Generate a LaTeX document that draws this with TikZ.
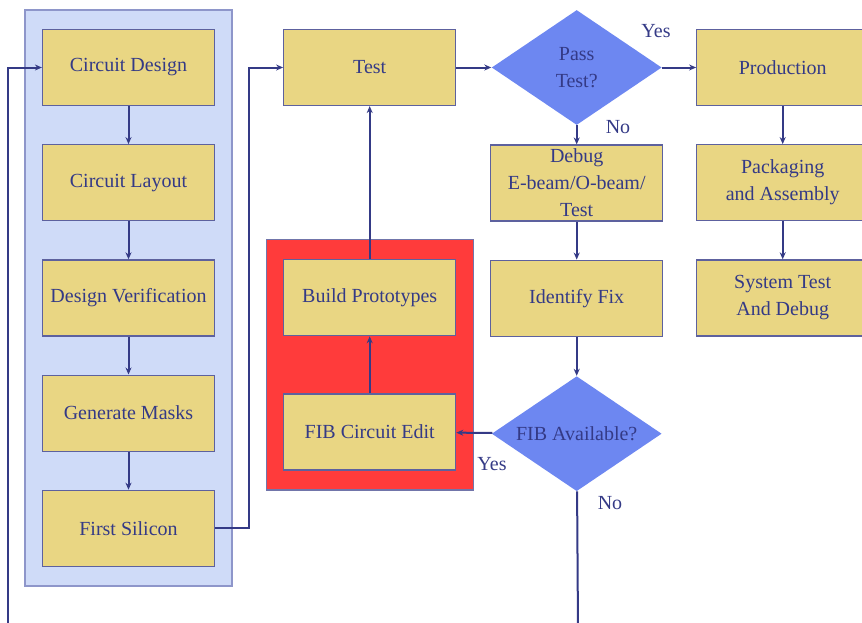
\documentclass[tikz,border=0pt]{standalone}
\usepackage{fontspec}
\setmainfont{Liberation Serif}
\usepackage{tikz}
\usetikzlibrary{positioning, arrows.meta, shapes.geometric, fit, backgrounds}

\definecolor{boxfill}{HTML}{E9D683}
\definecolor{inkblue}{HTML}{343A86}
\definecolor{panelblue}{HTML}{CFDBF8}
\definecolor{panelrim}{HTML}{8E96CA}
\definecolor{decisionfill}{HTML}{6D87F1}
\definecolor{fibred}{HTML}{FF3B3B}

\begin{document}
\begin{tikzpicture}[
    x=0.5pt, y=-0.5pt,
    every node/.style={text=inkblue, font=\fontsize{10}{13.5}\selectfont, align=center},
    stepbox/.style={rectangle, draw=inkblue!80, line width=0.6pt, fill=boxfill, minimum width=86pt, minimum height=38pt, inner sep=0pt},
    decision/.style={diamond, fill=decisionfill, minimum width=85pt, minimum height=57.5pt, inner sep=0pt},
    flow/.style={draw=inkblue, line width=1pt, -{Stealth[length=3.5pt, width=3pt]}},
    plainflow/.style={draw=inkblue, line width=1pt}
]
\clip (0,0) rectangle (862,622);

% design flow column
\node[stepbox](design) at (128.5,67.5){Circuit Design};
\node[stepbox](layout)[below = 19pt of design]{Circuit Layout};
\node[stepbox](verify)[below = 19pt of layout]{Design Verification};
\node[stepbox](masks)[below = 19pt of verify]{Generate Masks};
\node[stepbox](silicon)[below = 19pt of masks]{First Silicon};

% test and debug
\node[stepbox](test)[right = 34pt of design]{Test};
\node[decision](pass)[right = 17.5pt of test]{};
\node(passtext) at (pass){Pass\\Test?};
\node[stepbox](debug)[below = 9.5pt of pass]{Debug\\E-beam/O-beam/\\Test};
\node[stepbox](fix)[below = 19pt of debug]{Identify Fix};
\node[decision](avail)[below = 19.5pt of fix]{};
\node(availtext) at (avail){FIB Available?};

% FIB edit path
\node[stepbox](build)[below = 76.5pt of test]{Build Prototypes};
\node[stepbox](edit)[below = 28.5pt of build]{FIB Circuit Edit};

% production
\node[stepbox](prod)[right = 17pt of pass]{Production};
\node[stepbox](pack)[below = 19pt of prod]{Packaging\\and Assembly};
\node[stepbox](systest)[below = 19pt of pack]{System Test\\And Debug};

\begin{scope}[on background layer]
\node[fit=(design)(silicon), inner xsep=8.5pt, inner ysep=9.5pt, fill=panelblue, draw=panelrim, line width=0.8pt](flowpanel){};
\node[fit=(build)(edit), inner xsep=8.5pt, inner ysep=9.75pt, fill=fibred, draw=inkblue!70, line width=0.6pt](fibpanel){};
\end{scope}

% branch labels
\node(passyes) at (656,31){Yes};
\node(passno) at (618,127){No};
\node(availyes) at (492,464){Yes};
\node(availno) at (610,503){No};

% free ends below the picture
\coordinate(loopfoot) at (8,630);
\coordinate(availfoot) at (578,630);

\draw[flow] (design) -- (layout);
\draw[flow] (layout) -- (verify);
\draw[flow] (verify) -- (masks);
\draw[flow] (masks) -- (silicon);
\draw[flow] (silicon.east) -- ++(34,0) |- (test.west);
\draw[flow] (loopfoot) |- (design.west);
\draw[flow] (test) -- (pass);
\draw[flow] (pass) -- (prod);
\draw[flow] (pass) -- (debug);
\draw[flow] (debug) -- (fix);
\draw[flow] (fix) -- (avail);
\draw[flow] (avail) -- (edit);
\draw[plainflow] (avail) -- (availfoot);
\draw[flow] (edit) -- (build);
\draw[flow] (build) -- (test);
\draw[flow] (prod) -- (pack);
\draw[flow] (pack) -- (systest);
\end{tikzpicture}
\end{document}
